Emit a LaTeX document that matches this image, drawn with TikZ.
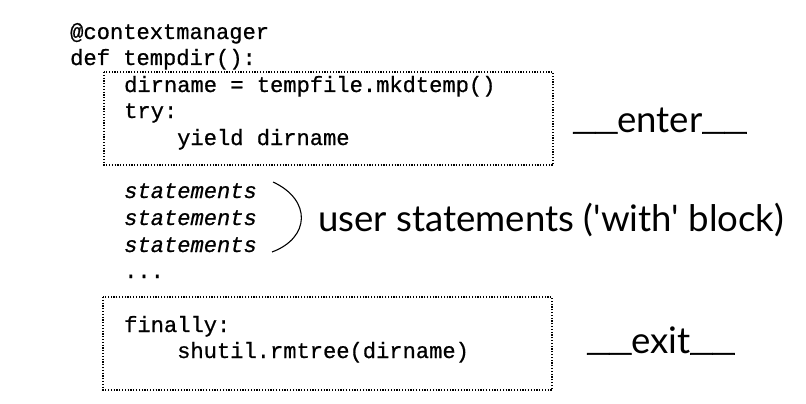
\documentclass[tikz,border=0pt]{standalone}
\usepackage{fontspec}
\setmonofont{Liberation Mono}[RawFeature={embolden=0.7}]
\newfontfamily\labelfont{Lato}
\newfontfamily\uscorefont{DejaVu Sans Mono}[RawFeature={embolden=2}]
\newcommand{\us}{\raisebox{7pt}{\uscorefont\_\_}}
\begin{document}
\begin{tikzpicture}[x=1pt,y=-1pt,
  code/.style={anchor=base west,inner sep=0pt,font=\ttfamily\fontsize{22.1}{26}\selectfont},
  stmt/.style={code,font=\ttfamily\itshape\fontsize{22.1}{26}\selectfont},
  biglabel/.style={anchor=base west,inner sep=0pt,font=\labelfont\fontsize{36.6}{42}\selectfont},
  dotbox/.style={draw,line width=1.2pt,dash pattern=on 1.2pt off 1.6pt}]
\useasboundingbox (0,0) rectangle (806,404);
\node[code] (l1) at (70,39) {@contextmanager};
\node[code] (l2) at (70,65) {def tempdir():};
\node[code] (l3) at (124,92) {dirname = tempfile.mkdtemp()};
\node[code] (l4) at (124,118) {try:};
\node[code] (l5) at (177,145) {yield dirname};
\draw[dotbox] (104,72) rectangle (553,165);
\node[biglabel] (enter) at (573,132) {\us enter\us};
\node[stmt] (s1) at (124,198) {statements};
\node[stmt] (s2) at (124,225) {statements};
\node[stmt] (s3) at (124,252) {statements};
\node[code] (dots) at (124,278) {...};
\coordinate (bt) at (273,182);
\coordinate (bb) at (272,252);
\draw[line width=1.1pt] (bt) .. controls (312,200) and (310,238) .. (bb);
\node[biglabel] (user) at (318,231) {user statements ('with' block)};
\draw[dotbox] (103,297) rectangle (552,390);
\node[code] (f1) at (124,332) {finally:};
\node[code] (f2) at (177,358) {shutil.rmtree(dirname)};
\node[biglabel] (exit) at (587,353) {\us exit\us};
\end{tikzpicture}
\end{document}
